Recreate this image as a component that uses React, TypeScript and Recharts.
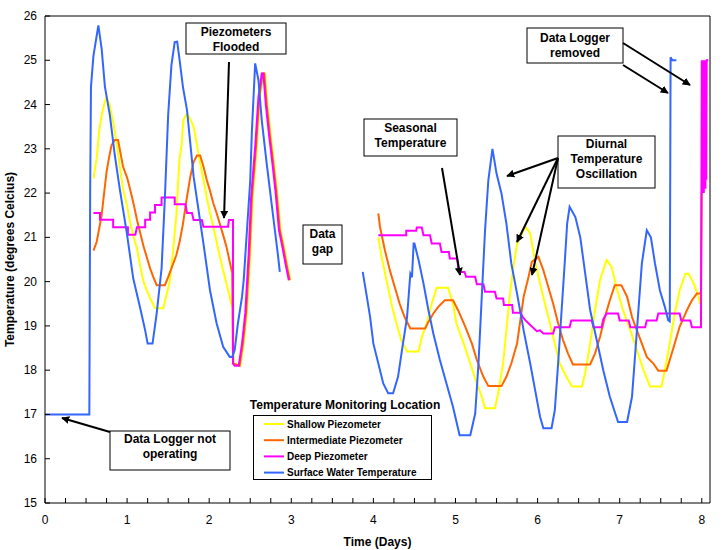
import { LineChart, Line, XAxis, YAxis } from "recharts";

// Temperature logger record — piezometers + surface water, days 0..8.
// Each series is [day, temp °C]; two segments with a data gap.

const shallowA = [
  [0.59, 22.33], [0.63, 22.8], [0.66, 23.4], [0.69, 23.76], [0.72, 24.0], [0.75, 24.17], [0.79, 23.98],
  [0.83, 23.6], [0.87, 23.16], [0.91, 22.6], [0.95, 22.1], [1.0, 21.7], [1.035, 21.35], [1.08, 21.0],
  [1.12, 20.75], [1.16, 20.35], [1.2, 20.0], [1.24, 19.8], [1.28, 19.63], [1.34, 19.4], [1.44, 19.4],
  [1.48, 19.7], [1.52, 20.0], [1.56, 20.7], [1.6, 21.5], [1.62, 22.2], [1.64, 22.8], [1.665, 23.1],
  [1.685, 23.65], [1.73, 23.8], [1.76, 23.7], [1.81, 23.5], [1.85, 23.1], [1.89, 22.67], [1.93, 22.3],
  [1.97, 21.9], [2.01, 21.55], [2.05, 21.24], [2.09, 20.9], [2.13, 20.56], [2.17, 20.25], [2.21, 19.96],
  [2.27, 19.5], [2.29, 19.4], [2.3, 18.15], [2.38, 18.1], [2.42, 18.6], [2.46, 19.3], [2.5, 20.6],
  [2.53, 21.9], [2.58, 23.04], [2.62, 24.17], [2.66, 24.7], [2.68, 24.7], [2.71, 24.0], [2.75, 23.3],
  [2.79, 22.67], [2.83, 22.0], [2.87, 21.16], [2.91, 20.8], [2.95, 20.4], [2.99, 20.03],
];
const shallowB = [
  [4.06, 21.0], [4.1, 20.56], [4.16, 20.03], [4.22, 19.5], [4.28, 19.06], [4.34, 18.68], [4.41, 18.42],
  [4.55, 18.42], [4.59, 18.75], [4.65, 19.06], [4.71, 19.5], [4.77, 19.86], [4.91, 19.86], [4.97, 19.5],
  [5.01, 19.06], [5.1, 18.6], [5.18, 18.15], [5.26, 17.7], [5.32, 17.4], [5.36, 17.14], [5.48, 17.14],
  [5.52, 17.48], [5.58, 18.15], [5.62, 18.9], [5.66, 19.66], [5.7, 20.26], [5.75, 20.86], [5.85, 21.24],
  [5.91, 21.09], [5.97, 20.45], [6.03, 19.96], [6.09, 19.5], [6.15, 19.06], [6.21, 18.6], [6.27, 18.15],
  [6.35, 17.85], [6.42, 17.63], [6.54, 17.63], [6.58, 17.93], [6.64, 18.6], [6.7, 19.36], [6.76, 20.03],
  [6.84, 20.49], [6.9, 20.34], [6.96, 19.88], [7.04, 19.36], [7.13, 18.9], [7.21, 18.45], [7.29, 18.0],
  [7.37, 17.63], [7.51, 17.63], [7.55, 18.0], [7.61, 18.6], [7.67, 19.28], [7.73, 19.8], [7.8, 20.18],
  [7.84, 20.18], [7.9, 19.96], [7.96, 19.66], [7.98, 19.5],
];

const interA = [
  [0.59, 20.7], [0.63, 20.9], [0.66, 21.2], [0.69, 21.5], [0.72, 22.0], [0.75, 22.48], [0.78, 22.8],
  [0.81, 23.08], [0.85, 23.2], [0.89, 23.2], [0.92, 22.9], [0.95, 22.6], [1.0, 22.35], [1.035, 22.1],
  [1.08, 21.75], [1.12, 21.4], [1.16, 21.1], [1.2, 20.8], [1.24, 20.55], [1.28, 20.3], [1.32, 20.1],
  [1.36, 19.92], [1.46, 19.92], [1.5, 20.1], [1.54, 20.3], [1.6, 20.6], [1.64, 20.9], [1.68, 21.3],
  [1.72, 21.8], [1.77, 22.37], [1.81, 22.7], [1.85, 22.85], [1.89, 22.85], [1.93, 22.6], [1.97, 22.3],
  [2.01, 22.05], [2.05, 21.77], [2.09, 21.55], [2.13, 21.3], [2.17, 21.05], [2.21, 20.79], [2.25, 20.45],
  [2.28, 20.2], [2.29, 18.15], [2.37, 18.1], [2.41, 18.6], [2.45, 19.3], [2.49, 20.6], [2.52, 21.9],
  [2.57, 23.04], [2.61, 24.17], [2.65, 24.7], [2.67, 24.7], [2.7, 24.0], [2.74, 23.3], [2.78, 22.67],
  [2.82, 22.0], [2.86, 21.16], [2.9, 20.8], [2.94, 20.4], [2.98, 20.03],
];
const interB = [
  [4.06, 21.54], [4.08, 21.24], [4.14, 20.71], [4.2, 20.26], [4.26, 19.88], [4.32, 19.5], [4.38, 19.2],
  [4.45, 18.94], [4.63, 18.94], [4.67, 19.09], [4.73, 19.28], [4.79, 19.43], [4.87, 19.58], [4.97, 19.58],
  [5.03, 19.36], [5.12, 18.98], [5.2, 18.6], [5.26, 18.23], [5.34, 17.85], [5.4, 17.64], [5.56, 17.64],
  [5.62, 17.85], [5.68, 18.15], [5.75, 18.6], [5.79, 19.13], [5.83, 19.66], [5.89, 20.11], [5.93, 20.45],
  [6.01, 20.56], [6.07, 20.26], [6.13, 19.88], [6.19, 19.5], [6.25, 19.06], [6.31, 18.68], [6.37, 18.38],
  [6.43, 18.13], [6.64, 18.13], [6.7, 18.38], [6.76, 18.75], [6.82, 19.2], [6.88, 19.58], [6.94, 19.92],
  [7.02, 19.92], [7.09, 19.66], [7.15, 19.2], [7.21, 18.9], [7.27, 18.6], [7.33, 18.3], [7.41, 18.15],
  [7.47, 17.99], [7.57, 17.99], [7.61, 18.23], [7.67, 18.6], [7.73, 18.98], [7.82, 19.36], [7.88, 19.58],
  [7.94, 19.73], [7.99, 19.73], [8.0, 22.0],
];

const deepA = [
  [0.59, 21.55], [0.67, 21.55], [0.67, 21.4], [0.83, 21.4], [0.83, 21.23], [1.01, 21.23], [1.01, 21.06],
  [1.1, 21.06], [1.12, 21.23], [1.22, 21.23], [1.22, 21.4], [1.28, 21.4], [1.28, 21.56], [1.34, 21.56],
  [1.34, 21.73], [1.42, 21.73], [1.42, 21.9], [1.58, 21.9], [1.58, 21.75], [1.71, 21.75], [1.73, 21.55],
  [1.79, 21.55], [1.81, 21.39], [1.91, 21.39], [1.93, 21.24], [2.23, 21.24], [2.24, 21.39], [2.29, 21.39],
  [2.29, 18.15], [2.31, 18.1], [2.36, 18.1], [2.4, 18.6], [2.44, 19.3], [2.48, 20.6], [2.51, 21.9],
  [2.56, 23.04], [2.6, 24.17], [2.64, 24.7], [2.66, 24.7], [2.69, 24.0], [2.73, 23.3], [2.77, 22.67],
  [2.81, 22.0], [2.85, 21.16], [2.89, 20.8], [2.93, 20.4], [2.97, 20.03],
];
const deepB = [
  [4.06, 21.05], [4.4, 21.05], [4.4, 21.15], [4.52, 21.15], [4.53, 21.22], [4.59, 21.22], [4.61, 21.05],
  [4.69, 21.05], [4.71, 20.86], [4.81, 20.86], [4.83, 20.67], [4.92, 20.67], [4.93, 20.52], [5.02, 20.52],
  [5.03, 20.37], [5.04, 20.22], [5.11, 20.22], [5.13, 20.11], [5.24, 20.11], [5.26, 19.94], [5.34, 19.94],
  [5.36, 19.77], [5.48, 19.77], [5.5, 19.62], [5.58, 19.62], [5.59, 19.47], [5.69, 19.47], [5.7, 19.3],
  [5.79, 19.3], [5.82, 19.2], [5.85, 19.13], [5.91, 19.02], [5.99, 18.88], [6.03, 18.9], [6.07, 18.83],
  [6.19, 18.83], [6.21, 18.97], [6.39, 18.97], [6.41, 19.12], [6.66, 19.12], [6.68, 18.97], [6.78, 18.97],
  [6.8, 19.15], [6.84, 19.28], [6.98, 19.28], [7.0, 19.12], [7.11, 19.12], [7.13, 18.97], [7.31, 18.97],
  [7.33, 19.12], [7.45, 19.12], [7.47, 19.28], [7.73, 19.28], [7.75, 19.12], [7.86, 19.12], [7.88, 18.97],
  [7.99, 18.97], [8.0, 25.0], [8.005, 22.0], [8.01, 25.0], [8.015, 22.1], [8.02, 25.0], [8.025, 22.0],
  [8.03, 25.0], [8.035, 22.2], [8.04, 25.0], [8.045, 22.1], [8.05, 25.0], [8.055, 22.3], [8.06, 25.0],
  [8.08, 25.0],
];

const surfaceA = [
  [0, 17.0], [0.54, 17.0], [0.55, 22.0], [0.56, 24.4], [0.59, 25.1], [0.63, 25.56], [0.65, 25.79],
  [0.69, 25.26], [0.73, 24.4], [0.79, 23.76], [0.85, 22.86], [0.91, 22.1], [0.995, 21.12], [1.075, 20.07],
  [1.16, 19.4], [1.22, 18.9], [1.25, 18.6], [1.31, 18.6], [1.36, 19.28], [1.42, 20.3], [1.46, 21.88],
  [1.5, 23.76], [1.54, 24.89], [1.58, 25.41], [1.61, 25.42], [1.64, 25.0], [1.68, 24.4], [1.73, 23.87],
  [1.81, 22.37], [1.93, 20.86], [2.01, 19.8], [2.09, 19.06], [2.17, 18.53], [2.25, 18.3], [2.28, 18.3],
  [2.31, 18.45], [2.35, 19.06], [2.4, 19.66], [2.42, 20.03], [2.46, 21.16], [2.5, 22.29], [2.52, 23.4],
  [2.54, 24.17], [2.56, 24.93], [2.6, 24.55], [2.64, 23.65], [2.7, 22.67], [2.78, 21.46], [2.84, 20.56],
  [2.86, 20.22],
];
const surfaceB = [
  [3.87, 20.22], [3.92, 19.66], [3.96, 19.2], [4.0, 18.6], [4.06, 18.15], [4.12, 17.7], [4.18, 17.48],
  [4.24, 17.48], [4.3, 17.85], [4.36, 18.6], [4.41, 19.2], [4.45, 20.18], [4.47, 20.1], [4.49, 20.86],
  [4.5, 20.86], [4.55, 20.49], [4.61, 19.96], [4.67, 19.36], [4.73, 18.83], [4.81, 18.23], [4.89, 17.7],
  [4.97, 17.17], [5.05, 16.53], [5.18, 16.53], [5.24, 17.02], [5.28, 18.15], [5.32, 19.66], [5.36, 21.16],
  [5.4, 22.29], [5.45, 23.0], [5.5, 22.44], [5.56, 21.99], [5.62, 21.31], [5.68, 20.41], [5.75, 19.73],
  [5.83, 18.9], [5.91, 18.15], [5.97, 17.55], [6.03, 16.95], [6.07, 16.69], [6.17, 16.69], [6.21, 17.1],
  [6.25, 18.15], [6.29, 19.28], [6.33, 20.41], [6.36, 21.31], [6.39, 21.69], [6.46, 21.46], [6.52, 21.0],
  [6.58, 20.18], [6.64, 19.36], [6.72, 18.68], [6.8, 18.0], [6.88, 17.4], [6.98, 16.83], [7.09, 16.83],
  [7.15, 17.4], [7.21, 18.9], [7.27, 20.41], [7.33, 21.16], [7.38, 21.0], [7.43, 20.41], [7.49, 19.8],
  [7.55, 19.43], [7.59, 19.13], [7.61, 19.1], [7.62, 25.07], [7.64, 25.0], [7.69, 25.0],
];

const xTicks = Array.from({ length: 33 }, (_, i) => i * 0.25);
const yTicks = [15, 16, 17, 18, 19, 20, 21, 22, 23, 24, 25, 26];

const FONT = "'Liberation Sans', Arial, sans-serif";

// join two segments with a null point so the data gap stays open
function seg(a: number[][], b: number[][]) {
  return [
    ...a.map(([d, t]) => ({ d, t })),
    { d: 3.4, t: null },
    ...b.map(([d, t]) => ({ d, t })),
  ];
}

const SERIES = [
  { name: "Shallow Piezometer", color: "#ffff00", data: seg(shallowA, shallowB) },
  { name: "Intermediate Piezometer", color: "#ff6600", data: seg(interA, interB) },
  { name: "Deep Piezometer", color: "#ff00ff", data: seg(deepA, deepB) },
  { name: "Surface Water Temperature", color: "#3366ff", data: seg(surfaceA, surfaceB) },
];

// inward tick marks, labels outside
const BottomTick = (p: any) => {
  const v = p.payload.value;
  return (
    <g>
      <line x1={p.x} x2={p.x} y1={p.y} y2={p.y - 5} stroke="#000" />
      {Number.isInteger(v) && (
        <text x={p.x} y={p.y + 21} textAnchor="middle" fontSize={12} fontFamily={FONT} fill="#000">
          {v}
        </text>
      )}
    </g>
  );
};
const TopTick = (p: any) => <line x1={p.x} x2={p.x} y1={p.y} y2={p.y + 5} stroke="#000" />;
const LeftTick = (p: any) => (
  <g>
    <line x1={p.x} x2={p.x + 5} y1={p.y} y2={p.y} stroke="#000" />
    <text x={p.x - 8} y={p.y + 4} textAnchor="end" fontSize={12} fontFamily={FONT} fill="#000">
      {p.payload.value}
    </text>
  </g>
);
const RightTick = (p: any) => <line x1={p.x} x2={p.x - 5} y1={p.y} y2={p.y} stroke="#000" />;

// text box annotation
function Note({ x, y, w, h, lines, cx, first, step = 15 }: any) {
  return (
    <g>
      <rect x={x} y={y} width={w} height={h} fill="#fff" stroke="#000" />
      {lines.map((s: string, i: number) => (
        <text key={i} x={cx} y={first + i * step} textAnchor="middle" fontSize={12} fontWeight="bold" fontFamily={FONT}>
          {s}
        </text>
      ))}
    </g>
  );
}

function Arrow({ x1, y1, x2, y2 }: any) {
  return <line x1={x1} y1={y1} x2={x2} y2={y2} stroke="#000" strokeWidth={2} markerEnd="url(#head)" />;
}

export default function App() {
  return (
    <div style={{ position: "relative", width: 724, height: 550, background: "#fff" }}>
      <style>{`body{margin:0}`}</style>
      <LineChart width={724} height={550} margin={{ top: 0, right: 0, bottom: 0, left: 0 }}>
        <XAxis
          dataKey="d"
          type="number"
          domain={[0, 8.1]}
          ticks={xTicks}
          interval={0}
          allowDataOverflow
          height={47}
          tickSize={0}
          tickMargin={0}
          tickLine={false}
          tick={<BottomTick />}
          axisLine={{ stroke: "#000" }}
          label={{ value: "Time (Days)", position: "insideBottom", offset: 4, fontSize: 12, fontWeight: "bold", fill: "#000", fontFamily: FONT }}
        />
        <XAxis
          xAxisId="top"
          orientation="top"
          dataKey="d"
          type="number"
          domain={[0, 8.1]}
          ticks={xTicks}
          interval={0}
          height={16}
          tickSize={0}
          tickMargin={0}
          tickLine={false}
          tick={<TopTick />}
          axisLine={{ stroke: "#000" }}
        />
        <YAxis
          type="number"
          domain={[15, 26]}
          ticks={yTicks}
          interval={0}
          width={45}
          tickSize={0}
          tickMargin={0}
          tickLine={false}
          tick={<LeftTick />}
          axisLine={{ stroke: "#000" }}
          label={{ value: "Temperature (degrees Celcius)", angle: -90, position: "insideLeft", offset: 10, style: { textAnchor: "middle" }, fontSize: 12, fontWeight: "bold", fill: "#000", fontFamily: FONT }}
        />
        <YAxis
          yAxisId="right"
          orientation="right"
          type="number"
          domain={[15, 26]}
          ticks={yTicks}
          interval={0}
          width={14}
          tickSize={0}
          tickMargin={0}
          tickLine={false}
          tick={<RightTick />}
          axisLine={{ stroke: "#000" }}
        />
        {SERIES.map((s) => (
          <Line
            key={s.name}
            data={s.data}
            dataKey="t"
            name={s.name}
            type="linear"
            stroke={s.color}
            strokeWidth={2}
            dot={false}
            activeDot={false}
            connectNulls={false}
            isAnimationActive={false}
          />
        ))}
      </LineChart>

      <svg width={724} height={550} style={{ position: "absolute", left: 0, top: 0, pointerEvents: "none" }}>
        <defs>
          <marker id="head" viewBox="0 0 10 10" refX="9" refY="5" markerWidth="4" markerHeight="4" orient="auto">
            <path d="M0,0 L10,5 L0,10 z" fill="#000" />
          </marker>
        </defs>
        <Note x={186} y={23} w={100} h={31} cx={236} first={36} lines={["Piezometers", "Flooded"]} />
        <Arrow x1={229} y1={62} x2={224} y2={218} />

        <Note x={303} y={225} w={39} h={39} cx={322.5} first={238} lines={["Data", "gap"]} />

        <Note x={364} y={119} w={93} h={37} cx={410.5} first={132} lines={["Seasonal", "Temperature"]} />
        <Arrow x1={442} y1={168} x2={460} y2={275} />

        <Note x={558} y={136} w={97} h={52} cx={606.5} first={148} lines={["Diurnal", "Temperature", "Oscillation"]} />
        <Arrow x1={558} y1={158} x2={507} y2={176} />
        <Arrow x1={558} y1={158} x2={517} y2={242} />
        <Arrow x1={558} y1={158} x2={532} y2={275} />

        <Note x={527} y={28} w={96} h={35} cx={575} first={42} lines={["Data Logger", "removed"]} />
        <Arrow x1={623} y1={43} x2={690} y2={85} />
        <Arrow x1={623} y1={65} x2={668} y2={93} />

        <Note x={110} y={431} w={120} h={39} cx={170} first={443} lines={["Data Logger not", "operating"]} />
        <Arrow x1={110} y1={432} x2={62} y2={418} />

        {/* legend */}
        <text x={345} y={409} textAnchor="middle" fontSize={12} fontWeight="bold" fontFamily={FONT}>
          Temperature Monitoring Location
        </text>
        <rect x={253.5} y={415.5} width={178} height={64} fill="#fff" stroke="#000" />
        {SERIES.map((s, i) => (
          <g key={s.name}>
            <line x1={264} x2={284} y1={424 + i * 16.2} y2={424 + i * 16.2} stroke={s.color} strokeWidth={2} />
            <text x={287} y={427.5 + i * 16.2} fontSize={10} fontWeight="bold" fontFamily={FONT}>
              {s.name}
            </text>
          </g>
        ))}
      </svg>
    </div>
  );
}
